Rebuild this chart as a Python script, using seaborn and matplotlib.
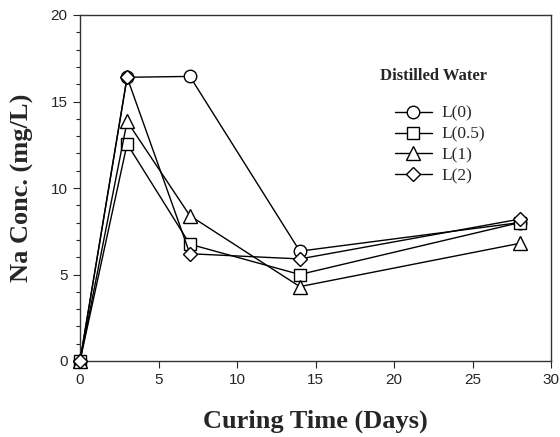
import matplotlib
matplotlib.use("Agg")
import matplotlib.pyplot as plt
import seaborn as sns
import pandas as pd
from matplotlib.ticker import MultipleLocator

days = [0, 3, 7, 14, 28]
series_names = ["L(0)", "L(0.5)", "L(1)", "L(2)"]
l0 = [0, 16.4, 16.45, 6.35, 8.0]
l05 = [0, 12.55, 6.75, 5.0, 8.0]
l1 = [0, 13.85, 8.4, 4.3, 6.8]
l2 = [0, 16.4, 6.2, 5.9, 8.2]
markers = ["o", "s", "^", "D"]
sizes = [9, 8.5, 9.5, 7.5]
legend_title = "Distilled Water"

sns.set_style("ticks")
df = pd.concat([
    pd.DataFrame({"day": days, "conc": vals, "series": name})
    for name, vals in zip(series_names, [l0, l05, l1, l2])
])

fig = plt.figure(figsize=(5.6, 4.37), dpi=100)
ax = fig.add_axes([80/560, 1 - 361/437, 471/560, 346/437])

for name, m, s in zip(series_names, markers, sizes):
    sub = df[df.series == name]
    sns.lineplot(data=sub, x="day", y="conc", ax=ax, color="black", lw=1.0,
                 marker=m, markersize=s, markerfacecolor="white",
                 markeredgecolor="black", markeredgewidth=1.0, label=name,
                 clip_on=False, zorder=3)

ax.set_xlim(0, 30)
ax.set_ylim(0, 20)
ax.xaxis.set_major_locator(MultipleLocator(5))
ax.yaxis.set_major_locator(MultipleLocator(5))
ax.yaxis.set_minor_locator(MultipleLocator(1))
ax.tick_params(axis="both", which="major", direction="out", length=5, width=0.8,
               labelsize=11, pad=4)
ax.tick_params(axis="y", which="minor", direction="out", length=3, width=0.8)
for lab in ax.get_xticklabels() + ax.get_yticklabels():
    lab.set_family("Liberation Sans")
for sp in ax.spines.values():
    sp.set_visible(True)
    sp.set_linewidth(1.0)
    sp.set_color("#333333")

ax.set_xlabel("Curing Time (Days)", family="Liberation Serif", fontweight="bold",
              fontsize=19, labelpad=16)
ax.set_ylabel("Na Conc. (mg/L)", family="Liberation Serif", fontweight="bold",
              fontsize=19, labelpad=12)

ax.text(0.637, 0.824, legend_title, transform=ax.transAxes, ha="left", va="center",
        family="Liberation Serif", fontweight="bold", fontsize=12)

leg = ax.legend(loc="upper left", bbox_to_anchor=(0.669, 0.738), frameon=False,
                prop={"family": "Liberation Serif", "size": 12.5},
                handlelength=2.1, handletextpad=0.55,
                labelspacing=0.27, borderpad=0, borderaxespad=0)

fig.savefig("out.png", dpi=100)
